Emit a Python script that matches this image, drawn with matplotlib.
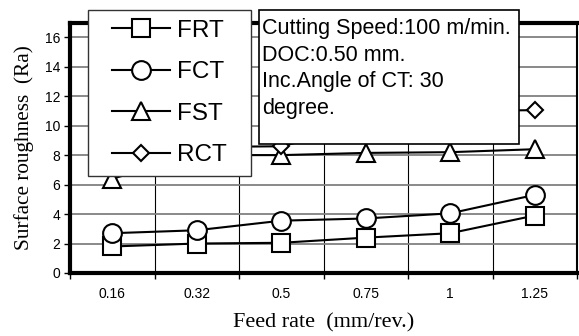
import matplotlib
matplotlib.use("Agg")
import matplotlib.pyplot as plt
from matplotlib.patches import Rectangle
from matplotlib.ticker import FixedLocator

categories = ["0.16", "0.32", "0.5", "0.75", "1", "1.25"]
FRT = [1.8, 2.0, 2.05, 2.4, 2.7, 3.9]
FCT = [2.7, 2.9, 3.55, 3.7, 4.05, 5.3]
FST = [6.4, 8.0, 8.0, 8.15, 8.2, 8.4]
RCT = [8.3, 8.55, 8.6, 10.0, 11.0, 11.05]
yticks = [0, 2, 4, 6, 8, 10, 12, 14, 16]

W, H = 579, 336
fig = plt.figure(figsize=(W / 100, H / 100), dpi=100)
ax = fig.add_axes([70 / W, (H - 273) / H, (577 - 70) / W, (273 - 22.5) / H])

x = list(range(len(categories)))
common = dict(color="black", lw=1.5, markerfacecolor="white",
              markeredgecolor="black", markeredgewidth=1.5, zorder=3)
h1, = ax.plot(x, FRT, marker="s", ms=12.5, label="FRT", **common)
h2, = ax.plot(x, FCT, marker="o", ms=13.5, label="FCT", **common)
h3, = ax.plot(x, FST, marker="^", ms=13, label="FST", **common)
h4, = ax.plot(x, RCT, marker="D", ms=8.5, label="RCT", **common)

ax.set_xlim(-0.5, len(categories) - 0.5)
ax.set_ylim(0, 17)
ax.set_xticks(x)
ax.set_xticklabels(categories, fontfamily="Liberation Sans", fontsize=10)
ax.xaxis.set_minor_locator(FixedLocator([i + 0.5 for i in range(-1, len(categories))]))
ax.tick_params(axis="x", which="major", length=0, pad=10)
ax.tick_params(axis="x", which="minor", length=4, width=1, direction="out", color="black")
ax.set_yticks(yticks)
ax.set_yticklabels([str(v) for v in yticks], fontfamily="Liberation Sans", fontsize=10)
ax.tick_params(axis="y", length=4, width=1, direction="out", pad=3)

ax.grid(axis="y", which="major", color="#808080", lw=1.3)
ax.grid(axis="x", which="minor", color="black", lw=0.8)
ax.set_axisbelow(True)

for s in ["left", "top", "bottom"]:
    ax.spines[s].set_linewidth(3)
ax.spines["right"].set_linewidth(1.5)

ax.set_xlabel("Feed rate  (mm/rev.)", fontfamily="Liberation Serif", fontsize=16, labelpad=9)
ax.set_ylabel("Surface roughness  (Ra)", fontfamily="Liberation Serif", fontsize=15.3, labelpad=8)

# legend frame drawn manually
lx0, lx1, ly0, ly1 = 88, 251, 10, 176
fig.patches.append(Rectangle((lx0 / W, 1 - ly1 / H), (lx1 - lx0) / W, (ly1 - ly0) / H,
                             transform=fig.transFigure, facecolor="white",
                             edgecolor="#333333", lw=1.0, zorder=4))
leg = fig.legend(handles=[h1, h2, h3, h4], loc="center",
                 bbox_to_anchor=((lx0 + lx1) / 2 / W, 1 - (ly0 + ly1) / 2 / H),
                 frameon=False, prop={"family": "Liberation Sans", "size": 17.5},
                 handlelength=2.4, handletextpad=0.3, labelspacing=0.8,
                 borderpad=0.0, borderaxespad=0)
leg.set_zorder(5)

fig.patches.append(Rectangle((259 / W, 1 - 144 / H), (519 - 259) / W, (144 - 10) / H,
                             transform=fig.transFigure, facecolor="white",
                             edgecolor="black", lw=1.2, zorder=5))
fig.text(262 / W, 1 - 18 / H, "Cutting Speed:100 m/min.\nDOC:0.50 mm.\nInc.Angle of CT: 30\ndegree.",
         ha="left", va="top", fontfamily="Liberation Sans", fontsize=15.5,
         linespacing=1.35, zorder=6)

fig.savefig("out.png", dpi=100)
